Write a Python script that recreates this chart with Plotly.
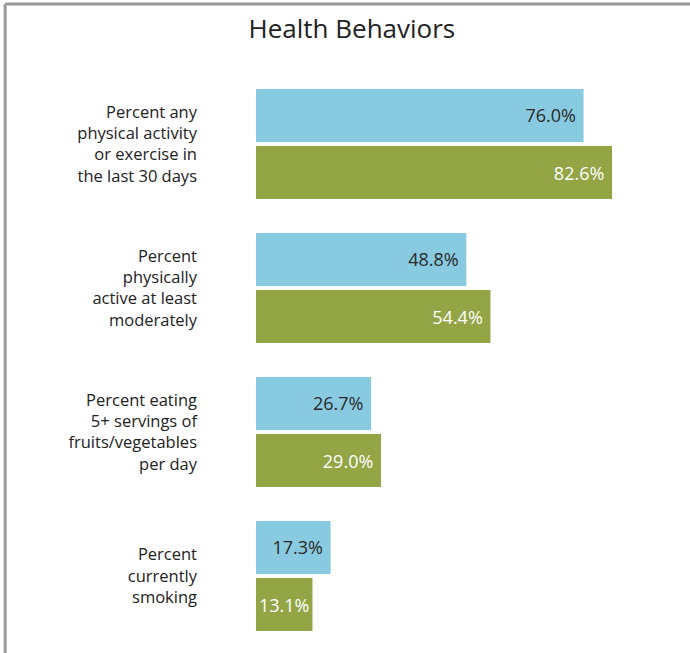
import plotly.graph_objects as go

categories = [
    "Percent any<br>physical activity<br>or exercise in<br>the last 30 days",
    "Percent<br>physically<br>active at least<br>moderately",
    "Percent eating<br>5+ servings of<br>fruits/vegetables<br>per day",
    "Percent<br>currently<br>smoking",
]
series_a = [76.0, 48.8, 26.7, 17.3]
series_b = [82.6, 54.4, 29.0, 13.1]
title = "Health Behaviors"

FONT = "Open Sans"
NB = "\u00a0"


def label(v):
    # short bars get no extra right padding so the label fits inside
    return f"{v:.1f}%" + (NB if v >= 15 else "")


fig = go.Figure()
fig.add_trace(go.Bar(
    y=categories, x=series_a, orientation="h",
    marker=dict(color="#88CBE1", line=dict(width=0)),
    text=[label(v) for v in series_a],
    textposition="inside", insidetextanchor="end",
    textfont=dict(color="#2a2a2a", size=18, family=FONT),
    hoverinfo="skip",
))
fig.add_trace(go.Bar(
    y=categories, x=series_b, orientation="h",
    marker=dict(color="#93A545", line=dict(width=0)),
    text=[label(v) for v in series_b],
    textposition="inside", insidetextanchor="end",
    textfont=dict(color="#ffffff", size=18, family=FONT),
    hoverinfo="skip",
))

fig.update_layout(
    width=690, height=653,
    margin=dict(l=256, r=3, t=72, b=5),
    paper_bgcolor="white", plot_bgcolor="white",
    barmode="group", bargap=0.208, bargroupgap=0.07,
    showlegend=False,
    uniformtext=dict(mode="show", minsize=18),
    title=dict(text=title, x=0.51, xanchor="center", y=0.955, yanchor="middle",
               font=dict(size=26, color="#222222", family=FONT)),
    xaxis=dict(range=[0, 100], visible=False, fixedrange=True),
    yaxis=dict(autorange="reversed", showgrid=False, zeroline=False, showline=False,
               ticks="", ticklabelstandoff=58, fixedrange=True,
               tickfont=dict(size=16.5, color="#222222", family=FONT)),
    shapes=[
        dict(type="line", xref="paper", yref="paper", x0=-0.582, x1=1.1, y0=1.118, y1=1.118,
             line=dict(color="#9a9a9a", width=3)),
        dict(type="line", xref="paper", yref="paper", x0=-0.582, x1=-0.582, y0=1.118, y1=-0.1,
             line=dict(color="#9a9a9a", width=3)),
    ],
)

fig.write_html("out.html", config={"displayModeBar": False},
               post_script="document.body.style.margin='0';")
